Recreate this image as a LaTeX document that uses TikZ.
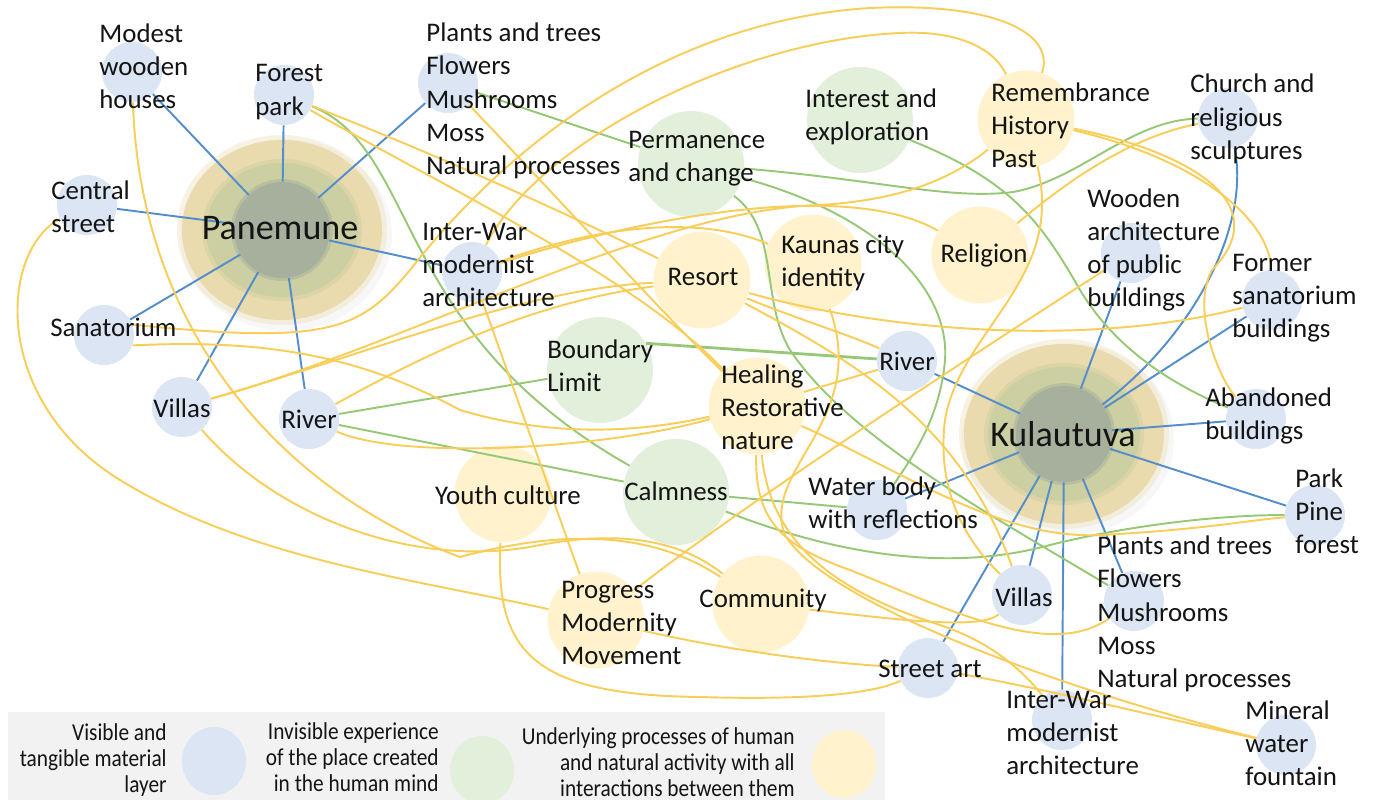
\documentclass[tikz,border=0pt]{standalone}
\usepackage{fontspec}
\setmainfont{Carlito}
\newfontfamily\legendfont[FakeStretch=0.88]{Carlito}
\usepackage{tikz}
\usetikzlibrary{calc,positioning}

\definecolor{matfill}{RGB}{219,229,244}
\definecolor{expfill}{RGB}{226,239,218}
\definecolor{procfill}{RGB}{255,242,204}
\definecolor{lineblue}{RGB}{84,141,204}
\definecolor{linegreen}{RGB}{150,200,118}
\definecolor{lineyellow}{RGB}{248,205,88}
\definecolor{hubtan}{RGB}{233,219,174}
\definecolor{hubmid}{RGB}{204,207,162}
\definecolor{hubcore}{RGB}{166,176,156}
\definecolor{keybg}{RGB}{242,242,242}
\definecolor{txtcol}{RGB}{20,20,20}

\begin{document}
\begin{tikzpicture}[x=0.02cm,y=-0.02cm,
  matcirc/.style={circle,fill=matfill,minimum size=1.2cm,inner sep=0pt},
  expcirc/.style={circle,fill=expfill,minimum size=2.12cm,inner sep=0pt},
  proccirc/.style={circle,fill=procfill,minimum size=1.94cm,inner sep=0pt},
  core/.style={circle,fill=hubcore,minimum size=1.92cm,inner sep=0pt},
  lbl/.style={font=\fontsize{15.3}{18.9}\selectfont,align=left,inner sep=0pt,anchor=west,text=txtcol},
  mid lbl/.style={lbl,anchor=center},
  hub lbl/.style={font=\fontsize{20.5}{24}\selectfont,inner sep=0pt,text=txtcol},
  key lbl/.style={font=\legendfont\fontsize{13.8}{14.8}\selectfont,align=right,inner sep=0pt,anchor=east,text=txtcol},
  bl/.style={draw=lineblue,line width=1.1pt},
  gl/.style={draw=linegreen,line width=1.1pt},
  yl/.style={draw=lineyellow,line width=1.1pt}]

\useasboundingbox (0,0) rectangle (1375,800);

% hubs
\coordinate (panC) at (282,230);
\coordinate (kulC) at (1064,434);
\foreach \c in {panC,kulC}{
  \fill[black!30,opacity=0.10] (\c) ++(4,5) ellipse [x radius=106, y radius=96];
  \fill[hubtan,opacity=0.35] (\c) ellipse [x radius=105, y radius=95];
  \fill[hubtan] (\c) ellipse [x radius=100, y radius=90];
  \fill[hubmid,opacity=0.5] (\c) ellipse [x radius=80, y radius=71];
  \fill[hubmid] (\c) ellipse [x radius=76, y radius=67];
  \fill[hubcore,opacity=0.5] (\c) circle [radius=51];
}
\node[core] (pan) at (panC) {};
\node[core] (kul) at (kulC) {};

% material layer
\node[matcirc] (pModest) at (132,72) {};
\node[matcirc] (pForest) at (284,95) {};
\node[matcirc] (pPlants) at (448,83) {};
\node[matcirc] (pCentral) at (87,205) {};
\node[matcirc] (pInterwar) at (472,272) {};
\node[matcirc] (pSanat) at (104,335) {};
\node[matcirc] (pVillas) at (182,407) {};
\node[matcirc] (pRiver) at (309,419) {};
\node[matcirc] (kRiver) at (907,361) {};
\node[matcirc] (kWater) at (877,510) {};
\node[matcirc] (kChurch) at (1228,118) {};
\node[matcirc] (kWooden) at (1131,253) {};
\node[matcirc] (kFormer) at (1272,300) {};
\node[matcirc] (kAband) at (1256,419) {};
\node[matcirc] (kPark) at (1315,515) {};
\node[matcirc] (kPlants) at (1134,601) {};
\node[matcirc] (kVillas) at (1022,595) {};
\node[matcirc] (kStreet) at (928,668) {};
\node[matcirc] (kInterwar) at (1062,720) {};
\node[matcirc] (kMineral) at (1286,745) {};

% experience
\node[expcirc] (gInterest) at (860,120) {};
\node[expcirc] (gPerm) at (691,164) {};
\node[expcirc] (gBound) at (600,370) {};
\node[expcirc] (gCalm) at (676,492) {};

% processes
\node[proccirc] (yRemem) at (1026,119) {};
\node[proccirc] (yReligion) at (980,255) {};
\node[proccirc] (yKaunas) at (813,263) {};
\node[proccirc] (yResort) at (702,280) {};
\node[proccirc] (yHealing) at (757,406) {};
\node[proccirc] (yYouth) at (503,494) {};
\node[proccirc] (yProgress) at (596,620) {};
\node[proccirc] (yCommunity) at (761,604) {};

\path (pan) edge[bl] (pModest) edge[bl] (pForest) edge[bl] (pPlants)
  edge[bl] (pCentral) edge[bl] (pInterwar) edge[bl] (pSanat)
  edge[bl] (pVillas) edge[bl] (pRiver);
\path (kul) edge[bl] (kRiver) edge[bl] (kWater) edge[bl] (kWooden)
  edge[bl] (kFormer) edge[bl] (kAband) edge[bl] (kPark) edge[bl] (kPlants)
  edge[bl] (kVillas) edge[bl] (kStreet) edge[bl] (kInterwar);
\draw[bl] (kChurch) .. controls (1250,220) and (1200,330) .. (kul);

\draw[gl] (pForest) .. controls (420,150) and (390,330) .. (gCalm);
\draw[gl] (pPlants) -- (gPerm);
\draw[gl] (gPerm) .. controls (880,180) and (950,200) .. (1013,192) .. controls (1080,180) and (1130,120) .. (kChurch);
\draw[gl] (gPerm) .. controls (780,230) and (760,300) .. (790,350) .. controls (850,440) and (1000,520) .. (kPlants);
\draw[gl] (gPerm) .. controls (880,215) and (950,290) .. (945,360) .. controls (940,420) and (910,460) .. (kWater);
\draw[gl] (gInterest) .. controls (1010,180) and (1040,220) .. (1080,290) .. controls (1110,340) and (1160,380) .. (kAband);
\draw[gl,line width=1.6pt] (gBound.30) -- (kRiver);
\path (pRiver) edge[gl] (gBound) edge[gl] (gCalm);
\draw[gl] (gCalm) -- (kWater);
\draw[gl] (gCalm) .. controls (850,560) and (960,570) .. (1050,545) .. controls (1130,525) and (1220,515) .. (kPark);

\draw[yl] (pModest) .. controls (140,330) and (280,490) .. (460,557) .. controls (560,530) and (650,530) .. (yCommunity);
\draw[yl] (pCentral) .. controls (0,250) and (-10,400) .. (120,480) .. controls (250,560) and (420,580) .. (yProgress);
\draw[yl] (pSanat.20) .. controls (330,345) and (360,330) .. (410,270) .. controls (520,130) and (680,20) .. (870,8) .. controls (1000,2) and (1055,35) .. (yRemem);
\draw[yl] (pInterwar) .. controls (540,140) and (740,40) .. (900,33) .. controls (960,30) and (995,50) .. (yRemem);
\draw[yl] (pVillas) .. controls (380,350) and (520,290) .. (yResort);
\draw[yl] (pVillas) .. controls (420,340) and (650,210) .. (820,205) .. controls (900,200) and (950,180) .. (yRemem);
\draw[yl] (pRiver) .. controls (450,340) and (550,300) .. (yResort);
\draw[yl] (pInterwar) .. controls (600,225) and (700,215) .. (yKaunas);
\draw[yl] (pInterwar) .. controls (650,215) and (850,180) .. (yReligion);
\draw[yl] (pPlants) .. controls (560,200) and (650,300) .. (yHealing);
\draw[yl] (pForest) .. controls (450,160) and (580,220) .. (yResort);
\draw[yl] (pForest) .. controls (450,190) and (640,280) .. (yHealing);
\draw[yl] (pSanat.-20) .. controls (250,340) and (350,350) .. (460,410) .. controls (560,440) and (650,430) .. (yHealing);
\draw[yl] (pRiver) .. controls (400,460) and (600,450) .. (yHealing);
\draw[yl] (pVillas) .. controls (280,520) and (420,570) .. (540,545) .. controls (620,530) and (680,540) .. (yCommunity);
\draw[yl] (pInterwar) -- (yProgress);
\draw[yl] (yYouth) .. controls (495,650) and (530,695) .. (700,697) .. controls (800,700) and (870,695) .. (kStreet);
\draw[yl] (yProgress) .. controls (750,655) and (850,665) .. (kStreet);
\draw[yl] (yProgress) .. controls (750,500) and (950,370) .. (kWooden);
\draw[yl] (yCommunity) .. controls (900,620) and (980,630) .. (kVillas);
\draw[yl] (yHealing) .. controls (755,520) and (780,545) .. (850,570) .. controls (950,610) and (1050,660) .. (kPlants);
\draw[yl] (yHealing) .. controls (770,540) and (830,590) .. (940,625) .. controls (1000,645) and (1030,680) .. (kInterwar);
\draw[yl] (yKaunas) .. controls (870,420) and (760,470) .. (785,535) .. controls (830,610) and (1100,700) .. (kMineral);
\draw[yl] (kStreet) .. controls (1050,690) and (1150,715) .. (kMineral);
\draw[yl] (yResort) .. controls (850,360) and (960,420) .. (kVillas);
\draw[yl] (yResort) .. controls (800,320) and (850,335) .. (kRiver);
\draw[yl] (yResort) .. controls (900,335) and (1100,345) .. (kFormer);
\draw[yl] (yHealing) -- (kRiver);
\draw[yl] (yHealing) .. controls (900,470) and (1000,540) .. (1100,535) .. controls (1200,530) and (1250,520) .. (kPark);
\draw[yl] (yRemem) .. controls (1200,160) and (1270,220) .. (kFormer);
\draw[yl] (yRemem) .. controls (1180,150) and (1280,200) .. (1212,270) .. controls (1190,310) and (1220,380) .. (kAband);
\draw[yl] (yReligion) .. controls (1080,170) and (1140,135) .. (kChurch);
\draw[yl] (yRemem) .. controls (1065,280) and (960,330) .. (945,420) .. controls (935,500) and (975,550) .. (kVillas);

\node[hub lbl] (panTxt) at (280,228) {Panemune};
\node[hub lbl] (kulTxt) at (1063,434) {Kulautuva};

\node[lbl] (tModest) at (99,66) {Modest\\wooden\\houses};
\node[lbl] (tForest) at (255,92) {Forest\\park};
\node[lbl] (tPlants) at (426,101) {Plants and trees\\Flowers\\Mushrooms\\Moss\\Natural processes};
\node[lbl] (tCentral) at (51,207) {Central\\street};
\node[lbl] (tInterwar) at (422,265) {Inter-War\\modernist\\architecture};
\node[lbl] (tSanat) at (50,327) {Sanatorium};
\node[mid lbl] (tVillas) at (182,408) {Villas};
\node[mid lbl] (tRiver) at (309,419) {River};
\node[mid lbl] (tRiverK) at (907,361) {River};
\node[lbl] (tWater) at (808,503) {Water body\\with reflections};
\node[lbl] (tChurch) at (1190,119) {Church and\\religious\\sculptures};
\node[lbl] (tWooden) at (1087,250) {Wooden\\architecture\\of public\\buildings};
\node[lbl] (tFormer) at (1232,298) {Former\\sanatorium\\buildings};
\node[lbl] (tAband) at (1205,416) {Abandoned\\buildings};
\node[lbl] (tPark) at (1295,511) {Park\\Pine\\forest};
\node[lbl] (tPlantsK) at (1097,614) {Plants and trees\\Flowers\\Mushrooms\\Moss\\Natural processes};
\node[mid lbl] (tVillasK) at (1024,597) {Villas};
\node[mid lbl] (tStreet) at (930,669) {Street art};
\node[lbl] (tInterwarK) at (1006,733) {Inter-War\\modernist\\architecture};
\node[lbl] (tMineral) at (1245,743) {Mineral\\water\\fountain};

\node[lbl] (tInterest) at (805,117) {Interest and\\exploration};
\node[lbl] (tPerm) at (628,159) {Permanence\\and change};
\node[lbl] (tBound) at (547,366) {Boundary\\Limit};
\node[mid lbl] (tCalm) at (676,491) {Calmness};

\node[lbl] (tRemem) at (991,125) {Remembrance\\History\\Past};
\node[mid lbl] (tReligion) at (984,255) {Religion};
\node[lbl] (tKaunas) at (781,263) {Kaunas city\\identity};
\node[mid lbl] (tResort) at (703,277) {Resort};
\node[lbl] (tHealing) at (721,407) {Healing\\Restorative\\nature};
\node[mid lbl] (tYouth) at (508,495) {Youth culture};
\node[lbl] (tProgress) at (561,623) {Progress\\Modernity\\Movement};
\node[mid lbl] (tCommunity) at (763,600) {Community};

% key
\fill[keybg] (8,712) rectangle (885,800);
\fill[matfill] (214,761) ellipse [x radius=32, y radius=34];
\fill[expfill] (482,770) ellipse [x radius=32, y radius=34];
\fill[procfill] (844,764) ellipse [x radius=32, y radius=34];
\node[key lbl] (keyMat) at (167,760) {Visible and\\tangible material\\layer};
\node[key lbl] (keyExp) at (439,757) {Invisible experience\\of the place created\\in the human mind};
\node[key lbl] (keyProc) at (795,762) {Underlying processes of human\\and natural activity with all\\interactions between them};
\end{tikzpicture}
\end{document}
